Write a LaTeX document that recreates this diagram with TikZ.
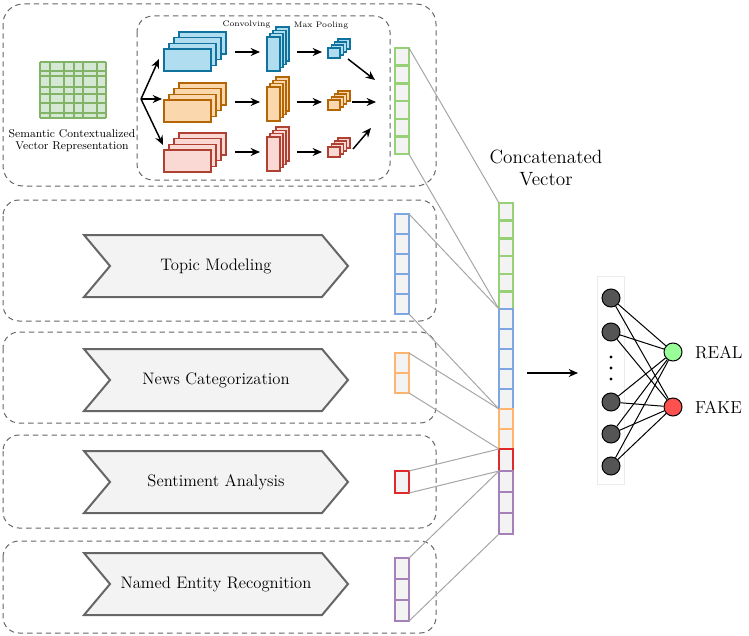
\documentclass[tikz,border=0pt]{standalone}
\usepackage{tikz}
\usetikzlibrary{shapes,arrows,arrows.meta,positioning}

\definecolor{boxgray}{HTML}{666666}
\definecolor{cellfill}{HTML}{F3F3F3}
\definecolor{vgreen}{HTML}{97D077}
\definecolor{vblue}{HTML}{7EA6E0}
\definecolor{vorange}{HTML}{FFB570}
\definecolor{vred}{HTML}{E02A2A}
\definecolor{vpurple}{HTML}{A680B8}
\definecolor{gridfill}{HTML}{D5E8D4}
\definecolor{gridline}{HTML}{82B366}
\definecolor{bluefill}{HTML}{B1DDF0}
\definecolor{blueline}{HTML}{10739E}
\definecolor{orangefill}{HTML}{FAD7AC}
\definecolor{orangeline}{HTML}{B46504}
\definecolor{redfill}{HTML}{FAD9D5}
\definecolor{redline}{HTML}{AE4132}
\definecolor{linkgray}{HTML}{A6A6A6}
\definecolor{realgreen}{HTML}{99FF99}
\definecolor{fakered}{HTML}{FF5050}
\definecolor{neurongray}{HTML}{555555}

\tikzset{
  dbox/.style={draw=boxgray, line width=0.75pt, dash pattern=on 4pt off 3pt, rounded corners=12pt},
  fmap/.style={draw=#1line, fill=#1fill, line width=1.1pt},
  flow/.style={-{Stealth[length=7pt,width=6pt]}, line width=1.1pt},
  cell/.style={draw=#1, fill=cellfill, line width=1.8pt, minimum width=10.5pt, inner sep=0pt, outer sep=0pt},
  link/.style={draw=linkgray, line width=0.75pt},
  chev/.style={signal, signal from=west, signal to=east, signal pointer angle=100,
    draw=boxgray, fill=cellfill, line width=1.5pt, minimum width=198pt, minimum height=46.5pt,
    inner sep=0pt, font=\fontsize{12.5}{15}\selectfont},
  neuron/.style={circle, draw=black, fill=#1, line width=0.75pt, minimum size=13.5pt, inner sep=0pt},
  tiny/.style={font=\fontsize{6}{7}\selectfont}
}

\begin{document}
\begin{tikzpicture}[x=0.75pt,y=-0.75pt]
\useasboundingbox (0,0) rectangle (749,635);

% dashed groups
\draw[dbox, rounded corners=15pt] (3,4) rectangle (436,186);
\draw[dbox] (137,16) rectangle (390,180);
\draw[dbox] (3,200) rectangle (436,321);
\draw[dbox] (3,332) rectangle (436,423);
\draw[dbox] (3,435) rectangle (436,528);
\draw[dbox] (3,541) rectangle (436,633);

% input matrix
\fill[gridfill] (40,62) rectangle (106,118);
\foreach \x in {40,50,64,74,83,97,106}
  \draw[gridline, line width=1.1pt] (\x,62) -- (\x,118);
\foreach \y in {62,71,76,87,94,103,113,118}
  \draw[gridline, line width=1.1pt] (40,\y) -- (106,\y);
\node[font=\fontsize{8.5}{9}\selectfont, align=center] (semtext) at (72,141)
  {Semantic Contextualized\\Vector Representation};

% cnn feature maps
\foreach \c/\y in {blue/49,orange/100,red/150}
  \foreach \k in {3,2,1,0}
    \draw[fmap=\c] ({164+5*\k},{\y-5.7*\k}) rectangle +(47,22);
\foreach \c/\y in {blue/37,orange/87,red/137}
  \foreach \k in {3,2,1,0}
    \draw[fmap=\c] ({267+3*\k},{\y-3.3*\k}) rectangle +(13,34);
\foreach \c/\y in {blue/48,orange/100,red/147}
  \foreach \k in {3,2,1,0}
    \draw[fmap=\c] ({328+3.3*\k},{\y-3*\k}) rectangle +(12,10);

\node[tiny] (convtext) at (246.5,25) {Convolving};
\node[tiny] (pooltext) at (321,26) {Max Pooling};

% cnn arrows
\coordinate (split) at (141,99);
\coordinate (inb) at (159,59);
\coordinate (ino) at (162,99);
\coordinate (inr) at (163,145);
\draw[flow] (split) -- (inb);
\draw[flow] (split) -- (ino);
\draw[flow] (split) -- (inr);
\foreach \y/\n in {52/b,102/o,152/r} {
  \coordinate (cv\n1) at (235,\y);
  \coordinate (cv\n2) at (260,\y);
  \coordinate (mp\n1) at (297,\y);
  \coordinate (mp\n2) at (322,\y);
  \draw[flow] (cv\n1) -- (cv\n2);
  \draw[flow] (mp\n1) -- (mp\n2);
}
\coordinate (outb1) at (348,59);  \coordinate (outb2) at (375,80);
\coordinate (outo1) at (352,102); \coordinate (outo2) at (376,102);
\coordinate (outr1) at (353,149); \coordinate (outr2) at (371,128);
\draw[flow] (outb1) -- (outb2);
\draw[flow] (outo1) -- (outo2);
\draw[flow] (outr1) -- (outr2);

% feature extractors
\node[chev] (topic) at (216,266) {Topic Modeling};
\node[chev] (news) at (216,380) {News Categorization};
\node[chev] (senti) at (216,482) {Sentiment Analysis};
\node[chev] (ner) at (216,584) {Named Entity Recognition};

% feature vectors
\foreach \k in {1,...,6}
  \node[cell=vgreen, minimum height=13.3pt] (g\k) at (402,{48+17.7*\k-8.85}) {};
\foreach \k in {1,...,5}
  \node[cell=vblue, minimum height=15pt] (b\k) at (402,{214+20*\k-10}) {};
\foreach \k in {1,2}
  \node[cell=vorange, minimum height=15pt] (o\k) at (402,{353+20*\k-10}) {};
\node[cell=vred, minimum height=16.5pt] (r1) at (402,482) {};
\foreach \k in {1,2,3}
  \node[cell=vpurple, minimum height=15.75pt] (p\k) at (402,{558+21*\k-10.5}) {};

% concatenated vector
\foreach \k in {1,...,6}
  \node[cell=vgreen, minimum height=13.3pt] (cg\k) at (506,{203+17.7*\k-8.85}) {};
\foreach \k in {1,...,5}
  \node[cell=vblue, minimum height=15pt] (cb\k) at (506,{309+20*\k-10}) {};
\foreach \k in {1,2}
  \node[cell=vorange, minimum height=15pt] (co\k) at (506,{409+20*\k-10}) {};
\node[cell=vred, minimum height=16.5pt] (cr1) at (506,460) {};
\foreach \k in {1,2,3}
  \node[cell=vpurple, minimum height=15.75pt] (cp\k) at (506,{471+21*\k-10.5}) {};

\node[font=\fontsize{14.4}{16.5}\selectfont, align=center] (cattext) at (546,168)
  {Concatenated\\Vector};

% links
\draw[link] (g1.north east) -- (cg1.north west);
\draw[link] (g6.south east) -- (cg6.south west);
\draw[link] (b1.north east) -- (cb1.north west);
\draw[link] (b5.south east) -- (cb5.south west);
\draw[link] (o1.north east) -- (co1.north west);
\draw[link] (o2.south east) -- (co2.south west);
\draw[link] (r1.north east) -- (cr1.north west);
\draw[link] (r1.south east) -- (cr1.south west);
\draw[link] (p1.north east) -- (cp1.north west);
\draw[link] (p3.south east) -- (cp3.south west);

% classifier
\coordinate (catout) at (527,373);
\coordinate (nnin) at (578,373);
\draw[flow, line width=0.9pt] (catout) -- (nnin);
\draw[draw=black!8, line width=0.6pt] (597,276) rectangle (624,484);
\foreach \y [count=\i] in {298,332,402,434,466}
  \node[neuron=neurongray] (in\i) at (611,\y) {};
\foreach \y in {357,368,379}
  \fill (611,\y) circle (1.2pt);
\node[neuron=realgreen] (real) at (673,352) {};
\node[neuron=fakered] (fake) at (673,407) {};
\foreach \i in {1,...,5} {
  \draw[line width=0.75pt] (in\i) -- (real);
  \draw[line width=0.75pt] (in\i) -- (fake);
}
\node[right=6pt of real, font=\fontsize{13}{15}\selectfont] (realtext) {REAL};
\node[right=6pt of fake, font=\fontsize{13}{15}\selectfont] (faketext) {FAKE};
\end{tikzpicture}
\end{document}
